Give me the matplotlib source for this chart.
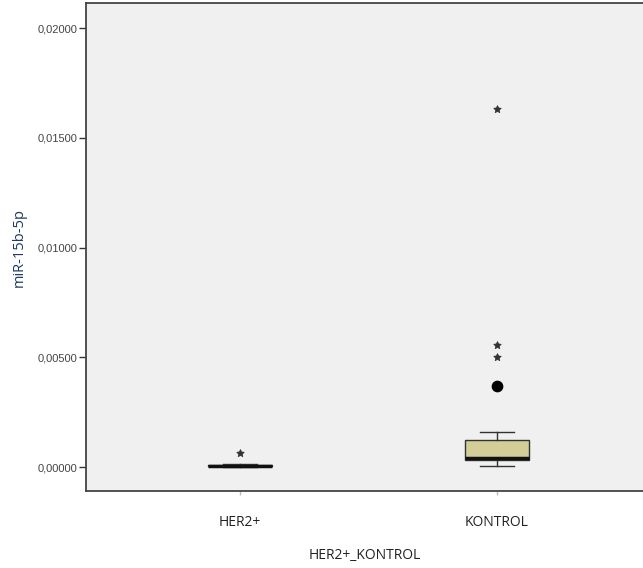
import matplotlib
matplotlib.use('Agg')
import matplotlib.pyplot as plt
from matplotlib.ticker import FuncFormatter

# Box statistics (miR-15b-5p)
groups = ['HER2+', 'KONTROL']
whisker_low = [0.00002, 0.00005]
q1 = [0.00003, 0.00030]
medians = [0.00006, 0.00040]
q3 = [0.00010, 0.00123]
whisker_high = [0.00012, 0.00160]

# Outliers: circles (mild) and stars (extreme)
mild_x = [2]
mild_y = [0.00368]
extreme_x = [1, 2, 2, 2]
extreme_y = [0.00064, 0.00500, 0.00555, 0.01632]

y_ticks = [0.0, 0.005, 0.010, 0.015, 0.020]

fig = plt.figure(figsize=(6.43, 5.68), dpi=100)
ax = fig.add_axes([0.1337, 0.1356, 0.8663, 0.859])
ax.set_facecolor('#F0F0F0')

stats = []
for i, g in enumerate(groups):
    stats.append({'label': g, 'whislo': whisker_low[i], 'q1': q1[i], 'med': medians[i],
                  'q3': q3[i], 'whishi': whisker_high[i]})

ax.bxp(stats, positions=[1, 2], widths=0.25, showfliers=False, patch_artist=True,
       boxprops=dict(facecolor='#D3CE97', edgecolor='#333333', linewidth=1.0),
       medianprops=dict(color='#111111', linewidth=2.5),
       whiskerprops=dict(color='#333333', linewidth=1.0),
       capprops=dict(color='#333333', linewidth=1.0),
       capwidths=0.13)

ax.scatter(mild_x, mild_y, s=55, color='black', marker='o', zorder=3)
ax.scatter(extreme_x, extreme_y, s=32, color='#333333', marker=(5, 1, 0), linewidths=0.5, zorder=3)

ax.set_xlim(0.401, 2.568)
ax.set_ylim(-0.00109, 0.02114)
ax.set_yticks(y_ticks)
ax.yaxis.set_major_formatter(FuncFormatter(lambda v, p: f'{v:.5f}'.replace('.', ',')))
ax.set_xticks([1, 2])
ax.set_xticklabels(groups, fontfamily='Open Sans', fontsize=10, color='#222222')

for lab in ax.get_yticklabels():
    lab.set_fontfamily('Liberation Sans')
    lab.set_fontsize(8)
    lab.set_color('#444444')

ax.tick_params(axis='y', direction='out', length=5, width=1, color='#333333', pad=1)
ax.tick_params(axis='x', direction='out', length=3, width=1, color='#BBBBBB', pad=14)

for side in ['left', 'bottom', 'top']:
    ax.spines[side].set_color('#444444')
    ax.spines[side].set_linewidth(1.3)
ax.spines['right'].set_visible(False)

ax.set_ylabel('miR-15b-5p', fontfamily='Open Sans', fontsize=10.5, color='#1F3864', labelpad=8)
ax.set_xlabel('HER2+_KONTROL', fontfamily='Open Sans', fontsize=10, color='#222222', labelpad=13)

fig.savefig('out.png', dpi=100)
